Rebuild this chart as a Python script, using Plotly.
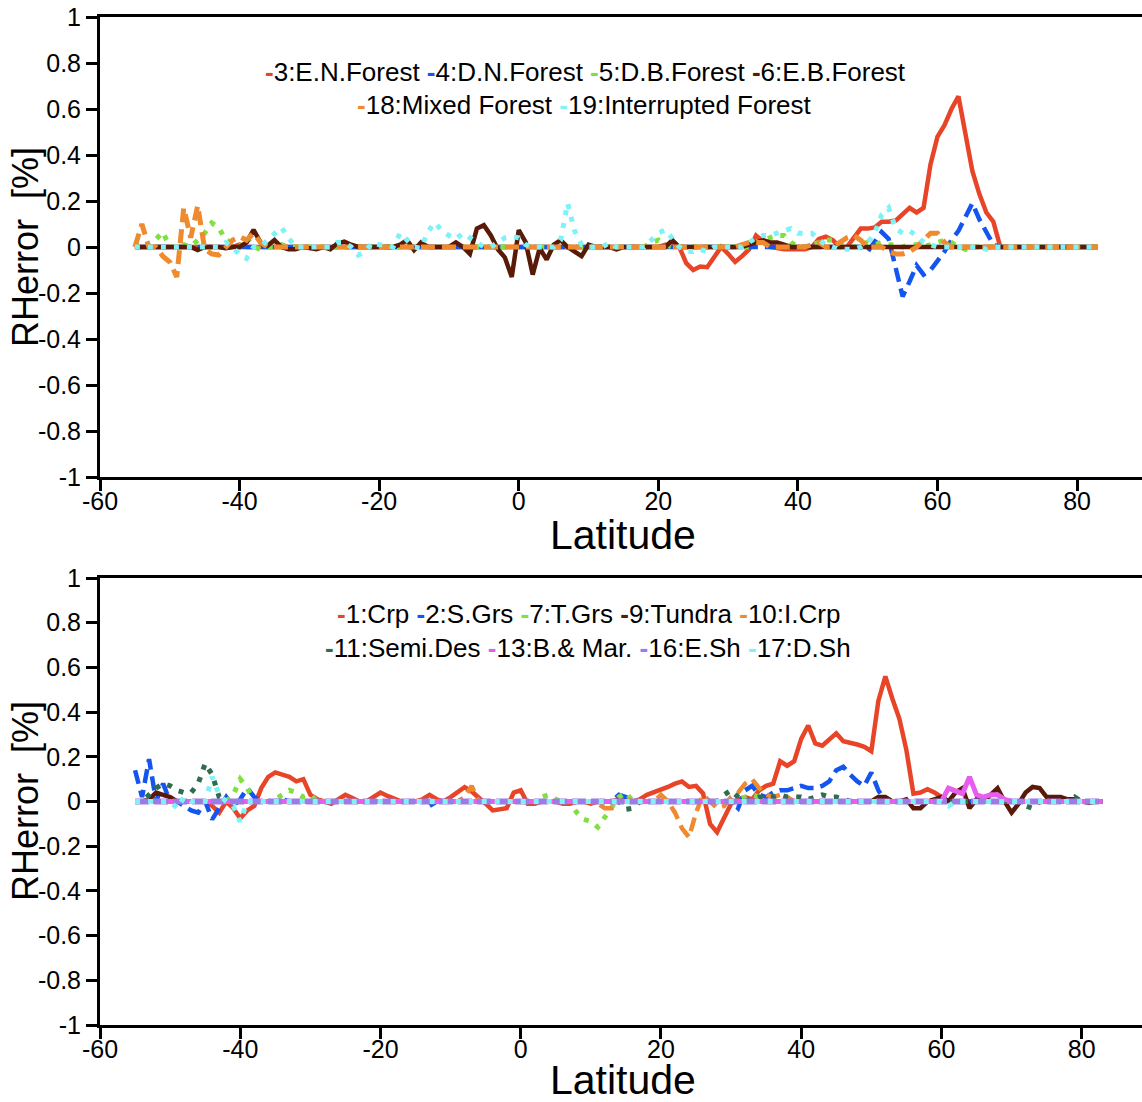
import plotly.graph_objects as go

# ---------------- data ----------------
latitude = list(range(-55, 84))  # 1-degree grid, -55 .. 83

x_tick_vals = [-60, -40, -20, 0, 20, 40, 60, 80]
x_tick_text = ["-60", "-40", "-20", "0", "20", "40", "60", "80"]
y_tick_vals = [-1, -0.8, -0.6, -0.4, -0.2, 0, 0.2, 0.4, 0.6, 0.8, 1]
y_tick_text = ["-1", "-0.8", "-0.6", "-0.4", "-0.2", "0", "0.2", "0.4", "0.6", "0.8", "1"]

# ---- top panel (forests) ----
en_forest = [  # 3:E.N.Forest
    0, 0, 0, 0, 0, 0, 0, 0, 0, 0,
    0, 0, 0, 0, 0, 0.01, 0, 0, 0, 0,
    0, 0, 0, 0, 0, 0, 0, 0, 0, 0,
    0, 0, 0, 0, 0, 0, 0, 0, 0, 0,
    0, 0, 0, 0, 0, 0, 0, 0, 0, 0,
    0, 0, 0, 0, 0, 0, 0, 0, 0, 0,
    0, 0, 0, 0, 0, 0, 0, 0, 0, 0,
    0, 0, 0, 0, 0, 0, 0.01, 0.01, 0, -0.07,
    -0.10, -0.085, -0.088, -0.04, 0.0, -0.03, -0.065, -0.04, -0.01, 0.05,
    0.025, 0.0, -0.005, -0.01, -0.01, -0.01, -0.01, 0.0, 0.035, 0.045,
    0.03, 0.0, 0.0, 0.04, 0.08, 0.08, 0.085, 0.11, 0.11, 0.115,
    0.14, 0.17, 0.15, 0.17, 0.36, 0.48, 0.53, 0.60, 0.655, 0.48,
    0.33, 0.23, 0.15, 0.11, 0.0, 0, 0, 0, 0, 0,
    0, 0, 0, 0, 0, 0, 0, 0, 0,
]
dn_forest = [  # 4:D.N.Forest
    0, 0, 0, 0, 0, 0, 0, 0, 0, 0,
    0, 0, 0, 0, 0, 0, 0, 0, 0, 0,
    0, 0, 0, 0, 0, 0, 0, 0, 0, 0,
    0, 0, 0, 0, 0, 0, 0, 0, 0, 0,
    0, 0, 0, 0, 0, 0, 0, 0, 0, 0,
    0, 0, 0, 0, 0, 0, 0, 0, 0, 0,
    0, 0, 0, 0, 0, 0, 0, 0, 0, 0,
    0, 0, 0, 0, 0, 0, 0, 0, 0, 0,
    0, 0, 0, 0, 0, 0, 0, 0, 0, 0,
    0, 0, 0, 0, 0, 0, 0, 0, 0, 0,
    0, 0, 0, 0, 0, -0.02, 0.02, 0.065, 0.035, -0.09,
    -0.215, -0.15, -0.08, -0.12, -0.10, -0.06, -0.02, 0.03, 0.07, 0.13,
    0.19, 0.12, 0.06, 0.01, 0, 0, 0, 0, 0, 0,
    0, 0, 0, 0, 0, 0, 0, 0, 0,
]
db_forest = [  # 5:D.B.Forest
    0, 0.01, 0, 0.03, 0.065, 0.0, 0.0, 0.01, 0.0, 0.03,
    0.06, 0.105, 0.085, 0.03, 0.02, 0.0, 0.04, 0.0, -0.01, 0.0,
    0, 0.01, 0, 0, 0, 0, 0, 0, 0, 0,
    0, 0, 0, 0, 0, 0, 0, 0, 0, 0.01,
    0, 0, 0, 0, 0, 0, 0, 0, 0, 0,
    0, 0, 0, 0, 0, 0, 0, 0, 0, 0,
    0, 0, 0, 0, 0, 0, 0, 0, 0, 0,
    0, 0, 0, 0, 0.02, 0.03, 0.01, 0, 0, 0,
    0, 0, 0, 0, 0, 0, 0, 0, 0, 0.02,
    0.03, 0.04, 0.05, 0.05, 0.02, 0, 0, 0.01, 0.02, 0.03,
    0.03, 0.01, 0, 0, 0.01, 0.02, 0.01, 0.02, 0.01, 0.01,
    0, 0.01, 0.01, 0.0, 0.01, 0.02, 0.03, 0.02, 0.0, -0.01,
    0, 0, 0, 0, 0, 0, 0, 0, 0, 0,
    0, 0, 0, 0, 0, 0, 0, 0, 0,
]
eb_forest = [  # 6:E.B.Forest
    0, 0, 0, 0, 0, 0, 0, 0, 0, -0.013,
    0, 0, 0, -0.005, 0, 0, 0.02, 0.075, 0.02, 0.005,
    0.03, 0.0, -0.01, -0.01, 0.0, -0.005, -0.01, 0.0, -0.01, 0.015,
    0.023, 0.01, 0.0, 0.0, 0.0, 0.0, 0.0, 0.0, 0.01, 0.03,
    -0.014, 0.02, 0.0, 0.0, 0.0, 0.0, 0.02, 0.0, -0.03, 0.08,
    0.095, 0.05, -0.01, -0.045, -0.13, 0.074, 0.02, -0.12, -0.005, -0.055,
    0.01, 0.03, 0.0, -0.02, -0.04, 0.01, 0.0, 0.0, 0.0, -0.01,
    0, 0, 0, 0, 0, 0, 0.0, 0.03, 0.0, 0,
    0, 0, 0, 0, 0, 0, 0, 0, 0.01, 0.02,
    0.03, 0.02, 0.02, 0.01, 0.0, 0, 0, 0, 0, 0,
    0, 0, 0, 0, 0, 0, 0, 0, 0, 0,
    0, 0, 0, 0, 0, 0, 0, 0, 0, 0,
    0, 0, 0, 0, 0, 0, 0, 0, 0, 0,
    0, 0, 0, 0, 0, 0, 0, 0, 0,
]
mixed_forest = [  # 18:Mixed Forest
    0.0, 0.10, 0.0, 0.0, -0.04, -0.065, -0.13, 0.17, 0.04, 0.18,
    -0.01, -0.03, -0.035, 0.0, 0.03, 0.045, 0.03, 0.06, 0.02, 0.0,
    0, 0, 0, 0, 0, 0, 0, 0, 0, 0,
    0, 0, 0, 0, 0, 0, 0, 0, 0, 0,
    0, 0, 0, 0, 0, 0, 0, 0, 0, 0,
    0, 0, 0, 0, 0, 0, 0, 0, 0, 0,
    0, 0, 0, 0, 0, 0, 0, 0, 0, 0,
    0, 0, 0, 0, 0, 0, 0, 0, 0, 0,
    0, 0, 0, 0, 0, 0, 0, 0.01, 0.02, 0.02,
    0.02, 0.0, 0, 0, 0, 0, 0, 0.01, 0.02, 0.0,
    0.0, 0.02, 0.04, 0.05, 0.03, 0.0, 0.0, 0.0, -0.02, -0.03,
    -0.03, -0.02, 0.0, 0.03, 0.06, 0.06, 0.02, 0.0, 0, 0,
    0, 0, 0, 0, 0, 0, 0, 0, 0, 0,
    0, 0, 0, 0, 0, 0, 0, 0, 0,
]
interrupted_forest = [  # 19:Interrupted Forest
    0, 0, 0, 0, 0, 0, 0, 0, 0, 0,
    0, 0, 0, 0.02, 0.0, -0.035, -0.05, 0.0, 0.0, 0.03,
    0.06, 0.085, 0.04, 0.0, 0.0, 0.0, 0.0, 0.0, 0.0, 0.02,
    0.02, 0.0, -0.035, -0.02, 0.02, 0.01, 0.01, 0.0, 0.06, 0.03,
    0.0, -0.005, 0.067, 0.106, 0.07, 0.05, 0.035, 0.06, 0.04, 0.02,
    0.0, 0.0, 0.02, 0.04, 0.045, 0.04, 0.01, 0.0, 0.0, 0.0,
    0.0, 0.03, 0.19, 0.07, 0.01, 0.0, 0.0, 0.0, 0.02, 0.0,
    0.0, 0.0, 0.0, 0.0, 0.03, 0.06, 0.075, 0.04, 0.0, -0.02,
    -0.02, -0.01, -0.02, 0.0, 0.0, 0.0, 0.0, 0.0, 0.02, 0.04,
    0.05, 0.05, 0.06, 0.07, 0.08, 0.06, 0.06, 0.06, 0.03, 0.01,
    0.0, -0.01, -0.01, -0.01, 0.0, 0.02, 0.06, 0.14, 0.17, 0.08,
    0.06, 0.07, 0.05, 0.02, 0.01, 0.0, 0.0, 0.0, 0.0, 0.0,
    0.0, 0.0, -0.01, 0.0, 0, 0, 0, 0, 0, 0,
    0, 0, 0, 0, 0, 0, 0, 0, 0,
]

# ---- bottom panel (non-forest) ----
crp = [  # 1:Crp
    0, 0, 0, 0, 0, 0, 0, 0, 0, 0,
    0.0, -0.02, -0.05, 0.0, -0.03, -0.075, -0.04, -0.02, 0.06, 0.11,
    0.13, 0.12, 0.11, 0.09, 0.10, 0.03, 0.01, 0.0, -0.01, 0.01,
    0.03, 0.015, 0.0, 0.0, 0.02, 0.04, 0.025, 0.01, 0.0, 0.0,
    0.0, 0.01, 0.03, 0.01, 0.0, 0.02, 0.04, 0.064, 0.045, 0.02,
    -0.01, -0.04, -0.035, -0.03, 0.04, 0.05, -0.01, -0.01, 0.0, 0.0,
    0.0, -0.01, -0.01, 0.0, 0.0, -0.01, 0.0, 0.0, 0.0, 0.01,
    0.01, 0.0, 0.01, 0.03, 0.04, 0.055, 0.065, 0.08, 0.09, 0.065,
    0.07, 0.036, -0.1, -0.137, -0.07, -0.01, 0.01, 0.02, 0.01, 0.05,
    0.07, 0.08, 0.18, 0.16, 0.18, 0.28, 0.34, 0.26, 0.25, 0.28,
    0.305, 0.27, 0.265, 0.255, 0.245, 0.225, 0.45, 0.56, 0.46, 0.37,
    0.23, 0.035, 0.04, 0.055, 0.04, 0.02, 0.0, 0, 0, 0,
    0, 0, 0, 0, 0, 0, 0, 0, 0, 0,
    0, 0, 0, 0, 0, 0, 0, 0, 0,
]
s_grs = [  # 2:S.Grs
    0.14, 0.02, 0.19, 0.0, 0.08, 0.0, 0.0, -0.02, -0.04, -0.05,
    0.0, -0.08, -0.03, 0.02, -0.02, 0.01, 0.06, 0.02, 0.0, 0.0,
    0.0, 0.01, 0, 0, 0, 0, 0, 0, 0, 0,
    0, 0, 0, 0, 0, 0, 0, 0, 0, 0,
    0, 0, -0.02, 0, 0, 0, 0, 0, 0, 0,
    0, 0, 0, 0, 0, 0, 0, 0, 0, 0,
    0, 0, 0, 0, 0, 0, 0, 0, 0, 0.03,
    0.02, 0, 0, 0, 0, 0, 0, 0, 0, 0,
    0, 0, 0, 0, 0, 0, -0.03, 0.05, 0.07, 0.03,
    0.02, 0.04, 0.05, 0.05, 0.06, 0.07, 0.06, 0.06, 0.07, 0.09,
    0.14, 0.155, 0.12, 0.09, 0.07, 0.13, 0.05, 0.0, 0, 0,
    0, 0, 0, 0, 0, 0, 0, 0, 0, 0,
    0, 0, 0, 0, 0, 0, 0, 0, 0, 0,
    0, 0, 0, 0, 0, 0, 0, 0, 0,
]
t_grs = [  # 7:T.Grs
    0, 0, 0, 0, 0, 0, 0, 0, 0, 0,
    0, 0, 0, 0, 0.03, 0.1, 0.06, 0.0, 0.0, 0.0,
    0.01, 0.03, 0.05, 0.04, 0.02, 0.03, 0.0, 0.0, 0.0, 0.0,
    0, 0, 0, 0, 0, 0, 0, 0, 0, 0,
    0, 0, 0, 0, 0, 0, 0, 0, 0, 0,
    0, 0, 0, 0, 0, 0, 0, 0, 0.02, 0.03,
    0.01, 0.0, 0.0, -0.05, -0.08, -0.09, -0.115, -0.07, -0.02, 0.02,
    0.04, 0.0, 0, 0, 0, 0, 0, 0, 0, 0,
    0, 0, 0, 0, 0, 0, 0.01, 0.02, 0.03, 0.02,
    0, 0, 0, 0, 0, 0, 0, 0, 0, 0,
    0, 0, 0, 0, 0, 0, 0, 0, 0, 0,
    0, 0, 0, 0, 0, 0, 0, 0, 0, 0,
    0, 0, 0, 0, 0, 0, 0, 0, 0, 0,
    0, 0, 0, 0, 0, 0, 0, 0, 0,
]
tundra = [  # 9:Tundra
    0, 0, 0.01, 0.04, 0.03, 0.02, 0, 0, 0, 0,
    0, 0, 0, 0, 0, 0, 0, 0, 0, 0,
    0, 0, 0, 0, 0, 0, 0, 0, 0, 0,
    0, 0, 0, 0, 0, 0, 0, 0, 0, 0,
    0, 0, 0, 0, 0, 0, 0, 0, 0, 0,
    0, 0, 0, 0, 0, 0, 0, 0, 0, 0,
    0, 0, 0, 0, 0, 0, 0, 0, 0, 0,
    0, 0, 0, 0, 0, 0, 0, 0, 0, 0,
    0, 0, 0, 0, 0, 0, 0, 0, 0, 0,
    0, 0, 0, 0, 0, 0, 0, 0, 0, 0,
    0, 0, 0, 0, 0, 0, 0.02, 0.02, 0.0, 0.0,
    0.01, -0.03, -0.03, 0.0, 0.01, 0.02, 0.0, 0.04, 0.06, -0.03,
    0.01, 0.0, 0.03, 0.06, 0.0, -0.05, -0.01, 0.04, 0.065, 0.06,
    0.02, 0.02, 0.02, 0.01, 0.01, 0.0, -0.005, 0.0, 0.0,
]
i_crp = [  # 10:I.Crp
    0, 0, 0, 0, 0, 0, 0, 0, 0, 0,
    0, 0, 0, 0, 0, 0, 0, 0, 0, 0,
    0, 0, 0, 0, 0, 0, 0, 0, 0, 0,
    0, 0, 0, 0, 0, 0, 0, 0, 0, 0,
    0, 0, 0, 0, 0, 0, 0, 0.02, 0.07, 0.0,
    0, 0, 0, 0, 0, 0, 0, 0, 0, 0,
    0, 0, 0, 0, 0, 0, -0.01, -0.03, -0.03, 0.0,
    0.0, 0.01, 0.0, 0.0, 0.0, 0.03, 0.0, -0.05, -0.12, -0.16,
    -0.05, 0.03, 0.0, -0.03, -0.02, 0.02, 0.04, 0.08, 0.10, 0.06,
    0.03, 0.02, 0.03, 0.02, 0.0, 0.0, 0.0, 0.0, 0, 0,
    0, 0, 0, 0, 0, 0, 0, 0, 0, 0,
    0, 0, 0, 0, 0, 0, 0, 0, 0, 0,
    0, 0, 0, 0, 0, 0, 0, 0, 0, 0,
    0, 0, 0, 0, 0, 0, 0, 0, 0,
]
semi_des = [  # 11:Semi.Des
    0.0, 0.0, 0.03, 0.06, 0.08, 0.07, 0.05, 0.04, 0.04, 0.08,
    0.17, 0.12, 0.02, 0.0, 0, 0, 0, 0, 0, 0,
    0, 0, 0, 0, 0, 0, 0, 0, 0, 0,
    0, 0, 0, 0, 0, 0, 0, 0, 0, 0,
    0, 0, 0, 0, 0, 0, 0, 0, 0, 0,
    0, 0, 0, 0, 0, 0, 0, 0, 0, 0,
    0, 0, 0, 0, 0, 0, 0, 0, 0, 0,
    -0.035, -0.03, 0, 0, 0, 0, 0, 0, 0, 0,
    0, 0, 0, 0, 0.03, 0.05, 0.02, 0.0, 0.01, 0.02,
    0.02, 0.02, 0.03, 0.02, 0.02, 0.02, 0.01, 0.02, 0.03, 0.02,
    0.02, 0.01, 0.0, 0, 0, 0, 0, 0, 0, 0,
    0, 0, 0, 0, 0, 0, 0, 0, 0, 0,
    0, 0, 0, 0, 0, 0, 0, -0.02, -0.03, 0.0,
    0, 0, 0, 0, 0.02, 0, 0, 0, 0,
]
b_mar = [  # 13:B.& Mar.
    0, 0, 0, 0, 0, 0, 0, 0, 0, 0,
    0, 0, 0, 0, 0, 0, 0, 0, 0, 0,
    0, 0, 0, 0, 0, 0, 0, 0, 0, 0,
    0, 0, 0, 0, 0, 0, 0, 0, 0, 0,
    0, 0, 0, 0, 0, 0, 0, 0, 0, 0,
    0, 0, 0, 0, 0, 0, 0, 0, 0, 0,
    0, 0, 0, 0, 0, 0, 0, 0, 0, 0,
    0, 0, 0, 0, 0, 0, 0, 0, 0, 0,
    0, 0, 0, 0, 0, 0, 0, 0, 0, 0,
    0, 0, 0, 0, 0, 0, 0, 0, 0, 0,
    0, 0, 0, 0, 0, 0, 0, 0, 0, 0,
    0, 0, 0, 0, 0, 0.0, 0.06, 0.045, 0.035, 0.11,
    0.03, 0.02, 0.03, 0.03, 0.01, 0, 0, 0, 0, 0,
    0, 0, 0, 0, 0, 0, 0, 0, 0,
]
e_sh = [  # 16:E.Sh
    0, 0, 0, 0, 0, 0, 0, 0, 0, 0,
    0, 0, 0, 0, 0, 0, 0, 0, 0, 0,
    0, 0, 0, 0, 0, 0, 0, 0, 0, 0,
    0, 0, 0, 0, 0, 0, 0, 0, 0, 0,
    0, 0, 0, 0, 0, 0, 0, 0, 0, 0,
    0, 0, 0, 0, 0, 0, 0, 0, 0, 0,
    0, 0, 0, 0, 0, 0, 0, 0, 0, 0,
    0, 0, 0, 0, 0, 0, 0, 0, 0, 0,
    0, 0, 0, 0, 0, 0, 0, 0, 0, 0,
    0, 0, 0, 0, 0, 0, 0, 0, 0, 0,
    0, 0, 0, 0, 0, 0, 0, 0, 0, 0,
    0, 0, 0, 0, 0, 0, 0, 0, 0, 0,
    0, 0, 0, 0, 0, 0, 0, 0, 0, 0,
    0, 0, 0, 0, 0, 0, 0, 0, 0,
]
d_sh = [  # 17:D.Sh
    0, 0, 0, 0, 0, 0, -0.03, 0.02, 0.0, 0.0,
    0.0, 0.11, 0.03, 0.0, -0.02, -0.09, 0.0, 0.0, 0.0, 0.0,
    0, 0, 0, 0, 0, 0, 0, 0, 0, 0,
    0, 0, 0, 0, 0, 0, 0, 0, 0, 0,
    0, 0, 0, 0, 0, 0, 0, 0, 0, 0,
    0, 0, 0, 0, 0, 0, 0, 0, 0, 0,
    0, 0, 0, 0, 0, 0, 0, 0, 0, 0,
    0, 0, 0, 0, 0, 0, 0, 0, 0, 0,
    0, 0, 0, 0, 0, 0, 0, 0, 0, 0,
    0, 0, 0, 0, 0, 0, 0, 0, 0, 0,
    0, 0, 0, 0, 0, 0, 0, 0, 0, 0,
    0, 0, 0, 0, 0, 0, -0.02, 0.0, 0, 0,
    0, 0, 0, 0, 0, 0, 0, 0, 0, 0,
    0, 0, 0, 0, 0, 0, 0, 0, 0,
]

top_names = ["3:E.N.Forest", "4:D.N.Forest", "5:D.B.Forest", "6:E.B.Forest",
             "18:Mixed Forest", "19:Interrupted Forest"]
top_series = [en_forest, dn_forest, db_forest, eb_forest, mixed_forest, interrupted_forest]
bot_names = ["1:Crp", "2:S.Grs", "7:T.Grs", "9:Tundra", "10:I.Crp",
             "11:Semi.Des", "13:B.& Mar.", "16:E.Sh", "17:D.Sh"]
bot_series = [crp, s_grs, t_grs, tundra, i_crp, semi_des, b_mar, e_sh, d_sh]

for s in top_series + bot_series:
    assert len(s) == len(latitude), len(s)

# ---------------- styles ----------------
RED, BLUE, LIME, BROWN = "#E84428", "#1455F0", "#80E040", "#5A1A08"
ORANGE, CYAN, DKGREEN = "#EF8A2E", "#7DF2F7", "#2E6E4E"
MAGENTA, PURPLE = "#E85CF0", "#9B7BE6"
DASH = "14px,7px"
DOT = "5px,8px"

top_styles = [
    dict(color=RED, width=4.5, dash="solid"),
    dict(color=BLUE, width=4.5, dash=DASH),
    dict(color=LIME, width=5, dash=DOT),
    dict(color=BROWN, width=4.5, dash="solid"),
    dict(color=ORANGE, width=5, dash=DASH),
    dict(color=CYAN, width=5, dash=DOT),
]
bot_styles = [
    dict(color=RED, width=4.5, dash="solid"),
    dict(color=BLUE, width=4.5, dash=DASH),
    dict(color=LIME, width=5, dash=DOT),
    dict(color=BROWN, width=4.5, dash="solid"),
    dict(color=ORANGE, width=4.5, dash=DASH),
    dict(color=DKGREEN, width=5, dash=DOT),
    dict(color=MAGENTA, width=5, dash="solid"),
    dict(color=PURPLE, width=6, dash="14px,5px"),
    dict(color=CYAN, width=5, dash=DOT),
]

fig = go.Figure()
for name, ys, st in zip(top_names, top_series, top_styles):
    fig.add_trace(go.Scatter(x=latitude, y=ys, mode="lines", name=name,
                             line=st, showlegend=False, xaxis="x", yaxis="y"))
for name, ys, st in zip(bot_names, bot_series, bot_styles):
    fig.add_trace(go.Scatter(x=latitude, y=ys, mode="lines", name=name,
                             line=st, showlegend=False, xaxis="x2", yaxis="y2"))

FONT = "Liberation Sans, Arial, sans-serif"
W, H, L = 1142, 1102, 100


def px_x(p):
    return (p - L) / (W - L)


def px_y(p):
    return 1 - p / H


axis_common = dict(showline=True, linewidth=3, linecolor="black", ticks="outside",
                   tickwidth=3, tickcolor="black", showgrid=False, zeroline=False,
                   automargin=False,
                   tickfont=dict(family=FONT, size=25, color="black"))

fig.update_layout(
    width=W, height=H, margin=dict(l=L, r=0, t=0, b=0, pad=0, autoexpand=False),
    paper_bgcolor="white", plot_bgcolor="white",
    xaxis=dict(domain=[0, 1], range=[-60, 89.3], anchor="y", mirror=True,
               tickvals=x_tick_vals, ticktext=x_tick_text, ticklen=11, **axis_common),
    yaxis=dict(domain=[px_y(477), px_y(17)], range=[-1, 1], anchor="x",
               tickvals=y_tick_vals, ticktext=y_tick_text, ticklen=11, **axis_common),
    xaxis2=dict(domain=[0, 1], range=[-60, 88.6], anchor="y2", mirror=True,
                tickvals=x_tick_vals, ticktext=x_tick_text, ticklen=11, **axis_common),
    yaxis2=dict(domain=[px_y(1025), px_y(578)], range=[-1, 1], anchor="x2",
                tickvals=y_tick_vals, ticktext=y_tick_text, ticklen=11, **axis_common),
)
# pull the x tick labels a little closer to the axis, as in the reference
try:
    fig.update_xaxes(ticklabelstandoff=-11)
except (ValueError, TypeError):
    pass


def legend_line(names, colors):
    parts = []
    for n, c in zip(names, colors):
        parts.append(f"<b><span style='color:{c}'>-</span></b>{n}")
    return " ".join(parts)


top_colors = [RED, BLUE, LIME, BROWN, ORANGE, CYAN]
bot_colors = [RED, BLUE, LIME, BROWN, ORANGE, DKGREEN, MAGENTA, PURPLE, CYAN]

ann = []
legend_font = dict(family=FONT, size=26, color="black")
ann.append(dict(text=legend_line(top_names[:4], top_colors[:4]), x=px_x(585), y=px_y(72)))
ann.append(dict(text=legend_line(top_names[4:], top_colors[4:]), x=px_x(584), y=px_y(105)))
ann.append(dict(text=legend_line(bot_names[:5], bot_colors[:5]), x=px_x(588), y=px_y(614)))
ann.append(dict(text=legend_line(bot_names[5:], bot_colors[5:]), x=px_x(588), y=px_y(648)))
for a in ann:
    a.update(xref="paper", yref="paper", showarrow=False, xanchor="center",
             yanchor="middle", font=legend_font)

title_font = dict(family=FONT, size=41, color="black")
for yc in (535, 1080):
    ann.append(dict(text="Latitude", x=px_x(623), y=px_y(yc), xref="paper", yref="paper",
                    showarrow=False, xanchor="center", yanchor="middle", font=title_font))
for yc in (247, 801):
    ann.append(dict(text="RHerror  [%]", x=px_x(25), y=px_y(yc), xref="paper", yref="paper",
                    showarrow=False, xanchor="center", yanchor="middle", textangle=-90,
                    font=dict(family=FONT, size=36, color="black")))

fig.update_layout(annotations=ann)
fig.write_html(
    "out.html",
    config={"displayModeBar": False},
    post_script="document.body.style.margin='0';document.body.style.overflow='hidden';",
)
